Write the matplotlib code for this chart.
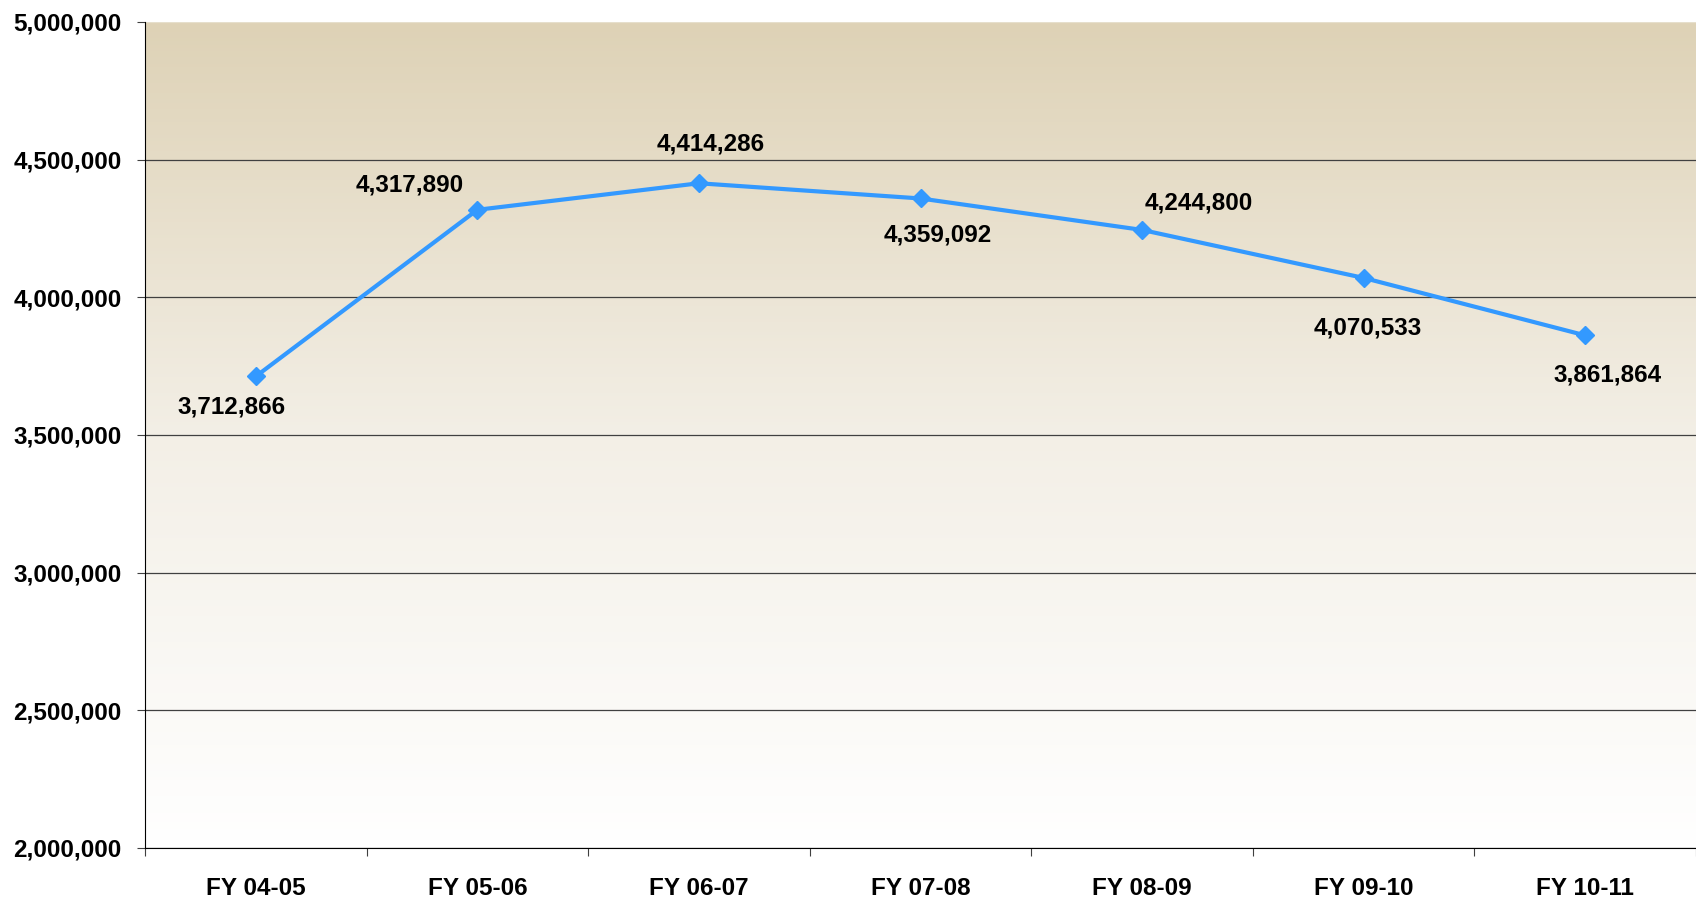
import matplotlib.pyplot as plt
import numpy as np
from matplotlib.colors import LinearSegmentedColormap
from matplotlib.ticker import FuncFormatter

plt.rcParams['font.family'] = ['Liberation Sans', 'DejaVu Sans']
plt.rcParams['font.weight'] = 'bold'

years = ["FY 04-05", "FY 05-06", "FY 06-07", "FY 07-08", "FY 08-09", "FY 09-10", "FY 10-11"]
values = [3712866, 4317890, 4414286, 4359092, 4244800, 4070533, 3861864]
# label offsets in pixels (x, y)
label_offsets = [(-24, -31), (-68, 25), (12, 39), (17, -37), (57, 27), (4, -50), (22, -40)]

fig = plt.figure(figsize=(16.96, 9.01), dpi=100)
ax = fig.add_axes([145 / 1696, 1 - 848 / 901, 1 - 145 / 1696, (848 - 22) / 901])

# background gradient (tan at top fading to white)
cmap = LinearSegmentedColormap.from_list("bg", ["#ffffff", "#f3efe6", "#ded2b6"])
grad = np.linspace(0, 1, 256).reshape(-1, 1)
ax.imshow(grad, cmap=cmap, aspect='auto', origin='lower',
          extent=[0, 1, 0, 1], transform=ax.transAxes, zorder=0)

x = np.arange(len(years))
ax.set_xlim(-0.5, len(years) - 0.5)
ax.set_ylim(2000000, 5000000)
ax.set_yticks(np.arange(2000000, 5000001, 500000))
ax.yaxis.set_major_formatter(FuncFormatter(lambda v, p: f"{int(v):,}"))
ax.grid(axis='y', color='#404040', linewidth=0.9, zorder=1)
ax.get_ygridlines()[-1].set_color('#e6dfcc')

ax.plot(x, values, color='#3399ff', linewidth=3, marker='D', markersize=9, zorder=3)

for xi, v, off in zip(x, values, label_offsets):
    ax.annotate(f"{v:,}", (xi, v), xytext=off, textcoords='offset pixels',
                ha='center', va='center', fontsize=17.5, fontweight='bold', zorder=4)

# x ticks at category boundaries, labels at centres
ax.set_xticks(np.arange(-0.5, len(years) - 0.4, 1))
ax.set_xticklabels([])
ax.set_xticks(x, minor=True)
ax.set_xticklabels(years, minor=True, fontsize=17.5, fontweight='bold')
ax.tick_params(axis='x', which='minor', length=0, pad=21)
ax.tick_params(axis='x', which='major', length=6, color='#404040')
ax.tick_params(axis='y', length=6, color='#404040', labelsize=17.5, pad=11)

for s in ['top', 'right']:
    ax.spines[s].set_visible(False)
ax.spines['left'].set_color('black')
ax.spines['bottom'].set_color('black')
ax.set_axisbelow(True)

fig.savefig("out.png", dpi=100)
